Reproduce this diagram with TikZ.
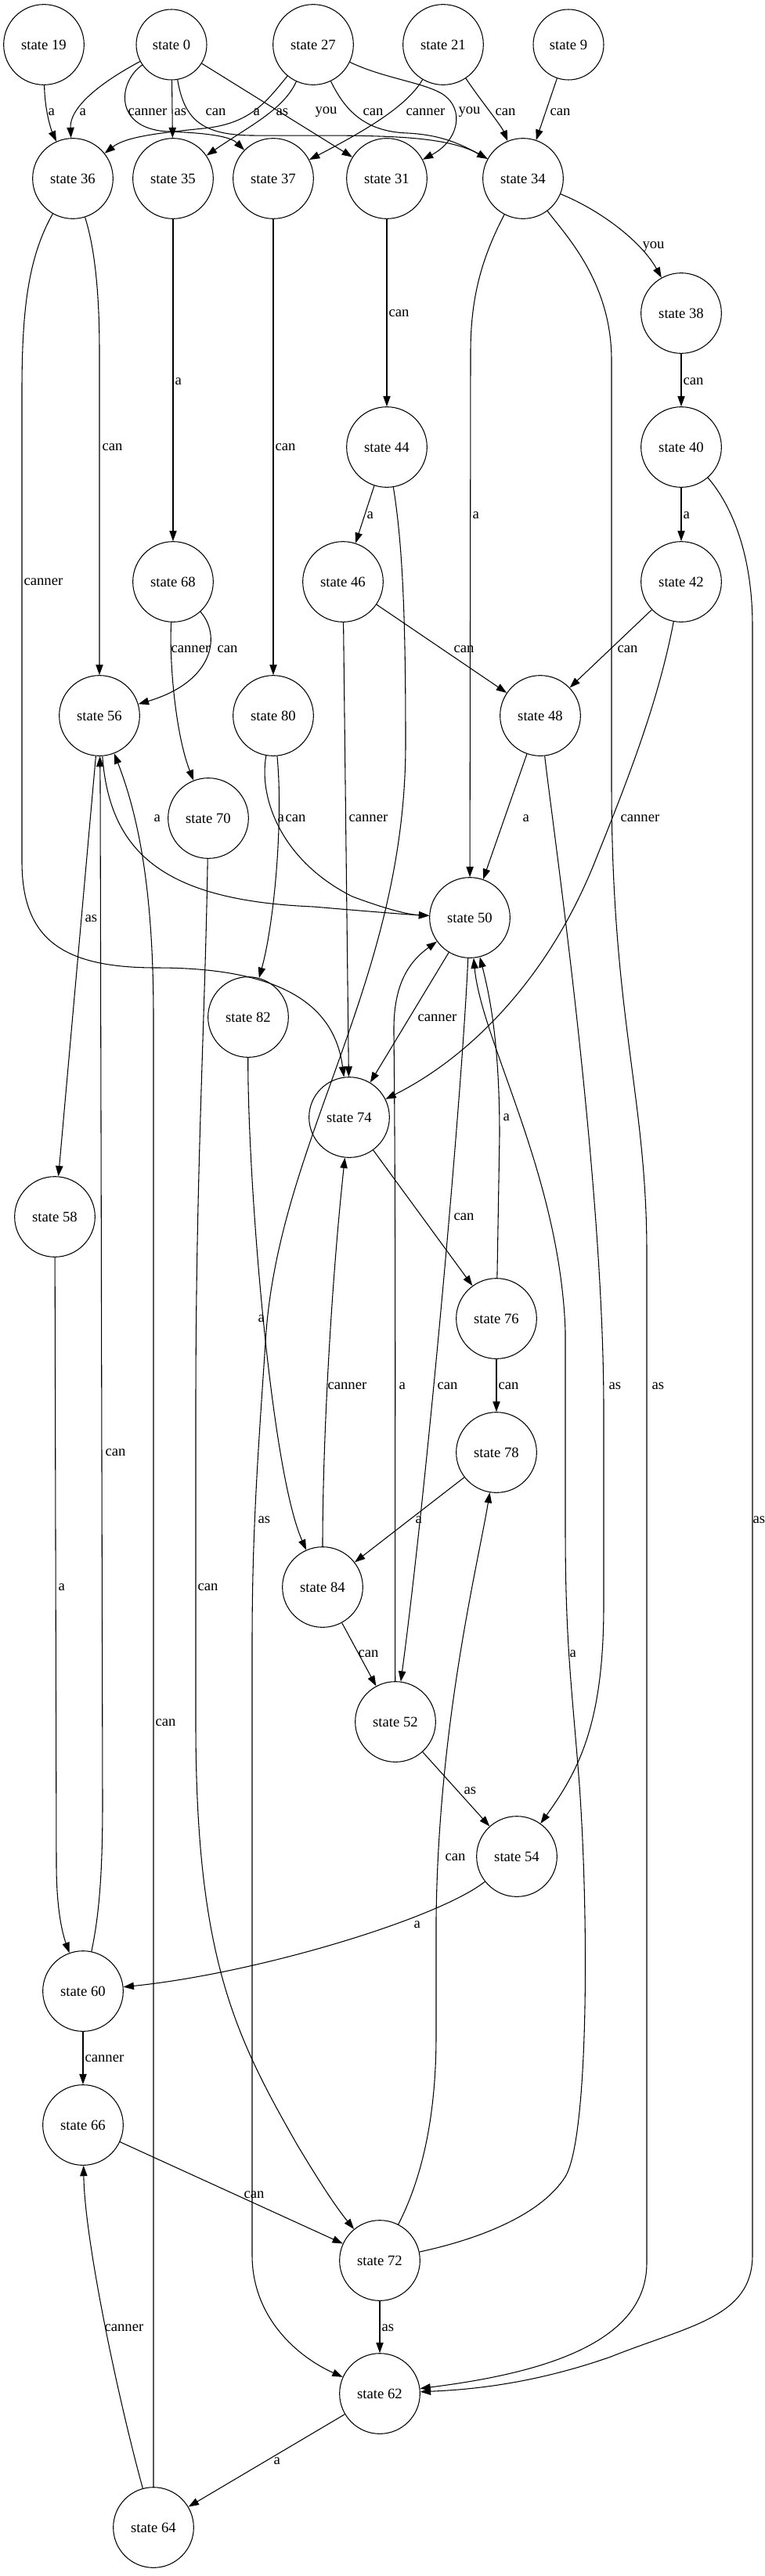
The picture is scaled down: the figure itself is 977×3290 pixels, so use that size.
\documentclass[tikz,border=0pt]{standalone}
\usepackage{fontspec}
\setmainfont{Liberation Serif}
\usetikzlibrary{arrows.meta}

\begin{document}
\begin{tikzpicture}[x=0.75pt,y=-0.75pt,thick,font=\fontsize{14}{16}\selectfont,
  state/.style={circle,draw,inner sep=0pt,minimum size=77pt},
  small state/.style={state,minimum size=67.5pt},
  trans/.style={-{Triangle[length=10pt,width=7pt]}},
  lbl/.style={anchor=west,inner sep=0pt}]
\useasboundingbox (0,0) rectangle (977,3290);

\node (s19) at ( 56,  57) [state] {state 19};
\node (s0)  at (219,  57) [small state] {state 0};
\node (s27) at (400,  57) [state] {state 27};
\node (s21) at (566,  57) [state] {state 21};
\node (s9)  at (726,  57) [small state] {state 9};
\node (s36) at ( 93, 228) [state] {state 36};
\node (s35) at (221, 228) [state] {state 35};
\node (s37) at (349, 228) [state] {state 37};
\node (s31) at (494, 228) [state] {state 31};
\node (s34) at (668, 228) [state] {state 34};
\node (s38) at (870, 400) [state] {state 38};
\node (s40) at (870, 571) [state] {state 40};
\node (s44) at (494, 571) [state] {state 44};
\node (s68) at (221, 743) [state] {state 68};
\node (s46) at (438, 743) [state] {state 46};
\node (s42) at (870, 743) [state] {state 42};
\node (s56) at (127, 914) [state] {state 56};
\node (s80) at (349, 914) [state] {state 80};
\node (s48) at (690, 914) [state] {state 48};
\node (s70) at (266,1045) [state] {state 70};
\node (s50) at (600,1172) [state] {state 50};
\node (s82) at (317,1299) [state] {state 82};
\node (s74) at (446,1427) [state] {state 74};
\node (s58) at ( 70,1554) [state] {state 58};
\node (s76) at (634,1684) [state] {state 76};
\node (s78) at (634,1855) [state] {state 78};
\node (s84) at (412,2027) [state] {state 84};
\node (s52) at (505,2199) [state] {state 52};
\node (s54) at (660,2371) [state] {state 54};
\node (s60) at (106,2543) [state] {state 60};
\node (s66) at (106,2714) [state] {state 66};
\node (s72) at (485,2887) [state] {state 72};
\node (s62) at (485,3057) [state] {state 62};
\node (s64) at (196,3228) [state] {state 64};

% first row
\draw[trans] (s19) .. controls (57,140) and (65,165) .. (s36) node[lbl] at (61,143) {a};
\draw[trans] (s0) .. controls (120,110) and (89,140) .. (s36) node[lbl] at (101,143) {a};
\draw[trans] (s0) .. controls (150,105) and (145,165) .. (215,168) .. controls (270,170) and (295,175) .. (s37) node[lbl] at (163,143) {canner};
\draw[trans] (s0) -- (s35) node[lbl] at (222,143) {as};
\draw[trans] (s0) .. controls (235,150) and (255,172) .. (320,173) .. controls (450,174) and (560,168) .. (s34) node[lbl] at (262,143) {can};
\draw[trans] (s0) -- (s31) node[lbl] at (402,143) {you};
\draw[trans] (s27) .. controls (340,130) and (320,158) .. (260,164) .. controls (200,170) and (160,175) .. (s36) node[lbl] at (323,143) {a};
\draw[trans] (s27) .. controls (362,140) and (320,160) .. (s35) node[lbl] at (352,143) {as};
\draw[trans] (s27) .. controls (440,140) and (465,168) .. (520,170) .. controls (560,172) and (585,182) .. (s34) node[lbl] at (463,143) {can};
\draw[trans] (s27) .. controls (490,100) and (540,105) .. (565,120) .. controls (595,140) and (585,180) .. (s31) node[lbl] at (585,143) {you};
\draw[trans] (s21) .. controls (520,135) and (470,165) .. (s37) node[lbl] at (518,143) {canner};
\draw[trans] (s21) .. controls (615,130) and (640,160) .. (s34) node[lbl] at (632,143) {can};
\draw[trans] (s9) -- (s34) node[lbl] at (702,143) {can};

% second row
\draw[trans] (s36) .. controls (122,320) and (127,380) .. (127,450) -- (s56) node[lbl] at (130,571) {can};
\draw[trans] (s36) .. controls (35,330) and (28,400) .. (28,500) -- (28,1100) .. controls (28,1200) and (80,1236) .. (200,1236) .. controls (370,1236) and (428,1290) .. (s74) node[lbl] at (30,743) {canner};
\draw[trans] (s35) -- (s68) node[lbl] at (223,487) {a};
\draw[trans] (s37) -- (s80) node[lbl] at (351,571) {can};
\draw[trans] (s31) -- (s44) node[lbl] at (496,400) {can};
\draw[trans] (s34) .. controls (770,270) and (820,310) .. (s38) node[lbl] at (820,315) {you};
\draw[trans] (s34) .. controls (615,330) and (601,380) .. (601,450) -- (s50) node[lbl] at (603,658) {a};
\draw[trans] (s34) .. controls (722,300) and (781,360) .. (781,460) -- (781,1000) .. controls (781,1300) and (826,1400) .. (826,1600) -- (826,2890) .. controls (826,2990) and (700,3030) .. (s62) node[lbl] at (832,1770) {as};

% right column
\draw[trans] (s38) -- (s40) node[lbl] at (872,487) {can};
\draw[trans] (s40) -- (s42) node[lbl] at (872,658) {a};
\draw[trans] (s40) .. controls (930,640) and (961,700) .. (961,800) -- (961,2880) .. controls (961,2960) and (880,2970) .. (780,3010) .. controls (680,3045) and (600,3052) .. (s62) node[lbl] at (961,1941) {as};
\draw[trans] (s44) -- (s46) node[lbl] at (468,658) {a};
\draw[trans] (s44) .. controls (515,700) and (518,800) .. (518,950) .. controls (518,1250) and (360,1450) .. (340,1700) .. controls (330,1850) and (322,1950) .. (322,2100) -- (322,2880) .. controls (322,2960) and (380,3010) .. (s62) node[lbl] at (329,1941) {as};
\draw[trans] (s68) .. controls (282,810) and (275,870) .. (s56) node[lbl] at (277,829) {can};
\draw[trans] (s68) .. controls (216,850) and (225,940) .. (s70) node[lbl] at (218,829) {canner};
\draw[trans] (s46) -- (s48) node[lbl] at (579,829) {can};
\draw[trans] (s46) -- (s74) node[lbl] at (445,1045) {canner};
\draw[trans] (s42) -- (s48) node[lbl] at (788,829) {can};
\draw[trans] (s42) .. controls (840,900) and (800,1000) .. (760,1100) .. controls (700,1250) and (600,1350) .. (s74) node[lbl] at (792,1045) {canner};

% middle
\draw[trans] (s56) .. controls (140,1090) and (210,1150) .. (400,1158) .. controls (470,1164) and (520,1168) .. (s50) node[lbl] at (196,1045) {a};
\draw[trans] (s56) -- (s58) node[lbl] at (108,1173) {as};
\draw[trans] (s80) .. controls (330,1020) and (360,1100) .. (450,1145) .. controls (490,1160) and (520,1168) .. (s50) node[lbl] at (354,1045) {a};
\draw[trans] (s80) .. controls (362,1050) and (350,1180) .. (s82) node[lbl] at (364,1045) {can};
\draw[trans] (s48) -- (s50) node[lbl] at (667,1045) {a};
\draw[trans] (s48) .. controls (705,1050) and (771,1500) .. (771,1800) -- (771,2050) .. controls (771,2200) and (740,2260) .. (s54) node[lbl] at (777,1770) {as};
\draw[trans] (s70) .. controls (262,1300) and (250,1500) .. (250,1800) -- (250,2200) .. controls (250,2500) and (300,2600) .. (380,2740) .. controls (410,2790) and (430,2820) .. (s72) node[lbl] at (252,2027) {can};
\draw[trans] (s50) -- (s74) node[lbl] at (533,1300) {canner};
\draw[trans] (s50) .. controls (590,1400) and (545,1900) .. (s52) node[lbl] at (558,1770) {can};
\draw[trans] (s82) .. controls (316,1500) and (345,1875) .. (s84) node[lbl] at (329,1684) {a};
\draw[trans] (s74) -- (s76) node[lbl] at (579,1554) {can};
\draw[trans] (s58) -- (72,2380) .. controls (72,2440) and (80,2470) .. (s60) node[lbl] at (74,2027) {a};
\draw[trans] (s76) -- (s78) node[lbl] at (636,1770) {can};
\draw[trans] (s76) -- (638,1450) .. controls (638,1330) and (625,1270) .. (s50) node[lbl] at (642,1427) {a};
\draw[trans] (s78) -- (s84) node[lbl] at (530,1941) {a};
\draw[trans] (s84) .. controls (412,1850) and (422,1650) .. (s74) node[lbl] at (418,1770) {canner};
\draw[trans] (s84) -- (s52) node[lbl] at (457,2112) {can};
\draw[trans] (s52) -- (s54) node[lbl] at (592,2287) {as};
\draw[trans] (s52) .. controls (504,2000) and (506,1600) .. (503,1320) .. controls (502,1260) and (520,1230) .. (s50) node[lbl] at (509,1770) {a};

% bottom
\draw[trans] (s54) .. controls (560,2450) and (330,2520) .. (s60) node[lbl] at (528,2458) {a};
\draw[trans] (s60) .. controls (128,2440) and (131,2380) .. (131,2300) -- (128,1000) -- (s56) node[lbl] at (134,1855) {can};
\draw[trans] (s60) -- (s66) node[lbl] at (108,2629) {canner};
\draw[trans] (s66) -- (s72) node[lbl] at (311,2803) {can};
\draw[trans] (s72) -- (s62) node[lbl] at (487,2973) {as};
\draw[trans] (s72) .. controls (540,2780) and (557,2700) .. (557,2600) -- (557,2450) .. controls (560,2200) and (610,2000) .. (s78) node[lbl] at (568,2372) {can};
\draw[trans] (s72) .. controls (610,2860) and (690,2830) .. (722,2780) .. controls (752,2730) and (752,2450) .. (740,2280) .. controls (730,2150) and (722,2100) .. (722,1950) -- (722,1700) .. controls (715,1500) and (615,1330) .. (s50) node[lbl] at (727,2112) {a};
\draw[trans] (s62) -- (s64) node[lbl] at (349,3143) {a};
\draw[trans] (s64) .. controls (150,3060) and (108,2860) .. (s66) node[lbl] at (133,2973) {canner};
\draw[trans] (s64) -- (196,1300) .. controls (196,1150) and (180,1050) .. (s56) node[lbl] at (198,2200) {can};
\end{tikzpicture}
\end{document}
